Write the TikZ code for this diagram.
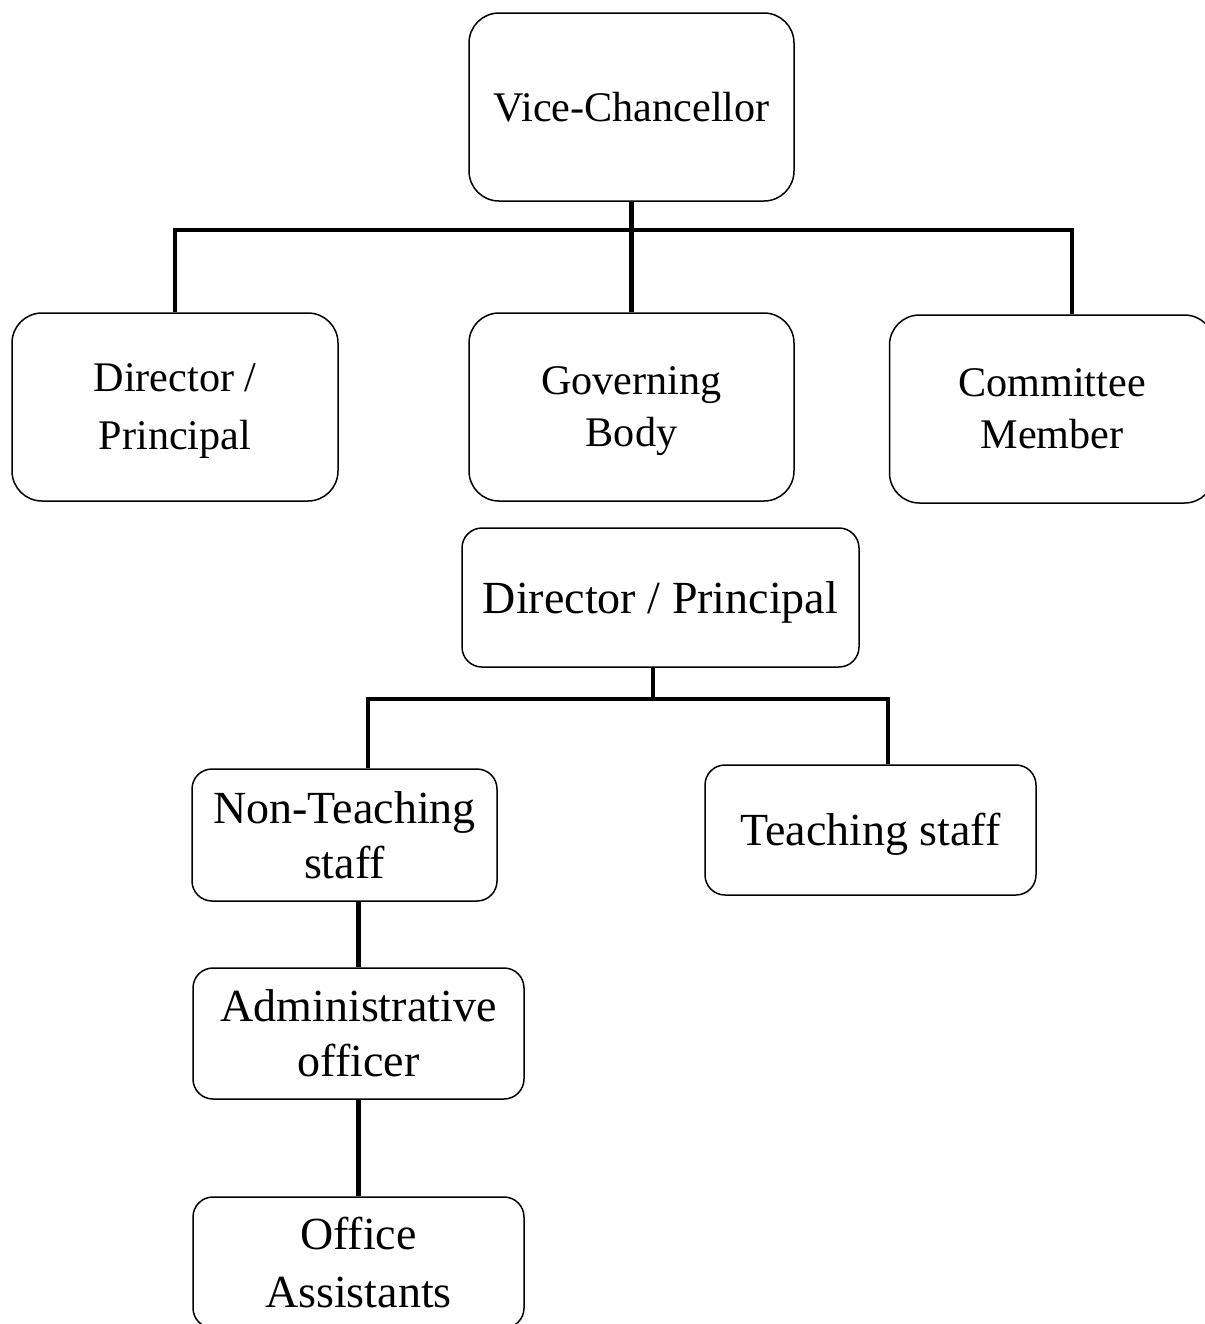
\documentclass[tikz,border=0pt]{standalone}
\usepackage{fontspec}
\setmainfont{Liberation Serif}
\begin{document}
\begin{tikzpicture}[x=0.5pt, y=-0.5pt,
	box/.style = {draw, line width=0.75pt, rounded corners=15pt, align=center, inner sep=0pt, font=\fontsize{21.1}{29}\selectfont},
	lowbox/.style = {box, rounded corners=10pt, font=\fontsize{23}{27.5}\selectfont},
	link/.style = {line width=2.1pt}]
	\useasboundingbox (0,0) rectangle (1205,1324);
	\clip (0,0) rectangle (1205,1324);
	\node[box, minimum width=162.5pt, minimum height=94pt] (vc) at (631.5,107) {Vice-Chancellor};
	\node[box, minimum width=163pt, minimum height=94pt, text depth=-3pt] (dp1) at (175,407) {Director /\\Principal};
	\node[box, minimum width=162.5pt, minimum height=94pt, text depth=-1pt, font=\fontsize{21.1}{26}\selectfont] (gb) at (631.5,407) {Governing\\Body};
	\node[box, minimum width=162.5pt, minimum height=94pt, text depth=-5pt, font=\fontsize{21.1}{26}\selectfont] (cm) at (1052,409) {Committee\\Member};
	\node[lowbox, minimum width=198.5pt, minimum height=69.5pt, text depth=-5pt] (dp2) at (660.5,597.5) {Director / Principal};
	\node[lowbox, minimum width=152.5pt, minimum height=66pt, text depth=-6pt] (nt) at (344.5,835) {Non-Teaching\\staff};
	\node[lowbox, minimum width=165.5pt, minimum height=65pt, text depth=1pt] (ts) at (870.5,830) {Teaching staff};
	\node[lowbox, minimum width=165.5pt, minimum height=65.5pt, text depth=-4pt] (adm) at (358.5,1033.5) {Administrative\\officer};
	\node[lowbox, minimum width=165.5pt, minimum height=65.5pt, font=\fontsize{23}{29}\selectfont] (oa) at (358.5,1262.5) {Office\\Assistants};
	\coordinate (cmj) at (1072,230);
	\coordinate (dpj) at (653,699);
	\coordinate (ntj) at (368,699);
	\coordinate (tsj) at (888,699);
	\draw[link] (vc) -- (gb);
	\draw[link] (dp1.north) |- (cmj) -- (cmj |- cm.north);
	\draw[link] (dpj |- dp2.south) -- (dpj);
	\draw[link] (ntj |- nt.north) -- (ntj) -- (tsj) -- (tsj |- ts.north);
	\draw[link] (nt.south -| adm) -- (adm);
	\draw[link] (adm) -- (oa);
\end{tikzpicture}
\end{document}
